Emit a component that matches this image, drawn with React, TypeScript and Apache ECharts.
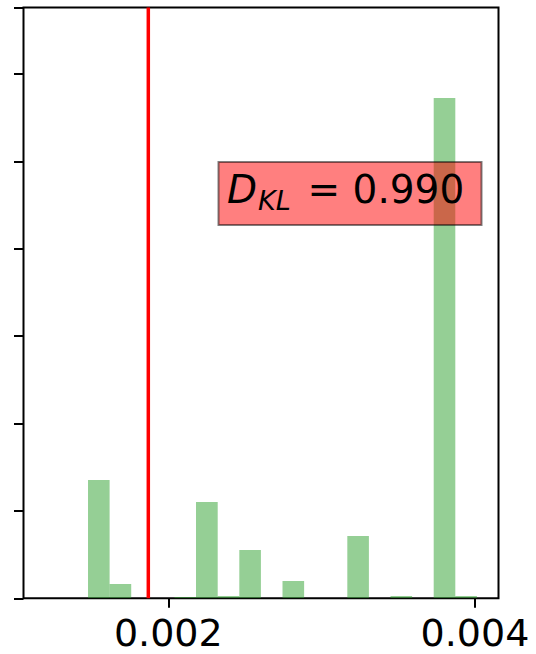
import React, { useEffect, useRef } from "react";
import * as echarts from "echarts";

// Histogram bin edges (x values) and bar heights (in y-tick units)
const binEdges = [
  0.0014764, 0.0016172, 0.0017581, 0.0018989, 0.0020398, 0.0021806,
  0.0023221, 0.002463, 0.0026039, 0.0027447, 0.0028856, 0.0030264,
  0.0031673, 0.0033081, 0.003449, 0.0035898, 0.0037307, 0.0038715,
  0.0040124,
];
const binHeights = [
  1.354, 0.164, 0, 0, 0.015, 1.102, 0.026, 0.553, 0, 0.198, 0, 0, 0.713, 0,
  0.026, 0, 5.724, 0.026,
];
const xTickValues = [0.002, 0.004];
const redLineX = 0.0018696;
const xMin = 0.0010557;
const xMax = 0.0041532;
const yMax = 6.76;
const dklLabel = "0.990";

const FONT = "DejaVu Sans";

export default function App() {
  const ref = useRef<HTMLDivElement>(null);
  useEffect(() => {
    if (!ref.current) return;
    const chart = echarts.init(ref.current, null, { renderer: "svg" });
    const histData = binHeights.map((h, i) => [binEdges[i], binEdges[i + 1], h]);
    chart.setOption({
      animation: false,
      grid: {
        left: 23.5,
        right: 37.5,
        top: 7.5,
        bottom: 55.7,
        show: true,
        borderColor: "#000",
        borderWidth: 2,
        backgroundColor: "transparent",
      },
      xAxis: {
        type: "value",
        min: xMin,
        max: xMax,
        axisLine: { show: false },
        splitLine: { show: false },
        axisTick: {
          show: true,
          inside: false,
          length: 9.5,
          lineStyle: { color: "#000", width: 2 },
          customValues: xTickValues,
        },
        axisLabel: {
          show: true,
          customValues: xTickValues,
          formatter: (v: number) => v.toFixed(3),
          fontFamily: FONT,
          fontSize: 38,
          color: "#000",
          margin: 16,
        },
      },
      yAxis: {
        type: "value",
        min: 0,
        max: yMax,
        interval: 1,
        axisLine: { show: false },
        splitLine: { show: false },
        axisTick: {
          show: true,
          inside: false,
          length: 9.5,
          lineStyle: { color: "#000", width: 2 },
        },
        axisLabel: { show: false },
      },
      series: [
        {
          type: "custom",
          data: histData,
          encode: { x: [0, 1], y: 2 },
          clip: true,
          renderItem: (params: any, api: any) => {
            const x0 = api.value(0);
            const x1 = api.value(1);
            const h = api.value(2);
            if (!h) return null;
            const p0 = api.coord([x0, h]);
            const p1 = api.coord([x1, 0]);
            return {
              type: "rect",
              shape: { x: p0[0], y: p0[1], width: p1[0] - p0[0], height: p1[1] - p0[1] },
              style: { fill: "rgba(44,160,44,0.5)" },
            };
          },
          z: 2,
        },
        {
          type: "line",
          data: [
            [redLineX, 0],
            [redLineX, yMax],
          ],
          symbol: "none",
          silent: true,
          z: 3,
          lineStyle: { color: "#ff0000", width: 3.5, type: "solid" },
        },
      ],
      graphic: [
        {
          type: "rect",
          z: 100,
          shape: { x: 218.5, y: 162, width: 263, height: 63 },
          style: { fill: "rgba(255,0,0,0.5)", stroke: "rgba(0,0,0,0.5)", lineWidth: 2 },
        },
        {
          type: "text",
          z: 101,
          x: 227,
          y: 189.6,
          style: {
            text: "D",
            fontFamily: FONT,
            fontStyle: "italic",
            fontSize: 39,
            fill: "#000",
            textAlign: "left",
            textVerticalAlign: "middle",
          },
        },
        {
          type: "text",
          z: 101,
          x: 258,
          y: 200.7,
          style: {
            text: "KL",
            fontFamily: FONT,
            fontStyle: "italic",
            fontSize: 27,
            fill: "#000",
            textAlign: "left",
            textVerticalAlign: "middle",
          },
        },
        {
          type: "text",
          z: 101,
          x: 307.5,
          y: 189.6,
          style: {
            text: "= " + dklLabel,
            fontFamily: FONT,
            fontSize: 39,
            fill: "#000",
            textAlign: "left",
            textVerticalAlign: "middle",
          },
        },
      ],
    });
    return () => chart.dispose();
  }, []);
  return (
    <div
      ref={ref}
      style={{ position: "absolute", left: 0, top: 0, width: 536, height: 654 }}
    />
  );
}
